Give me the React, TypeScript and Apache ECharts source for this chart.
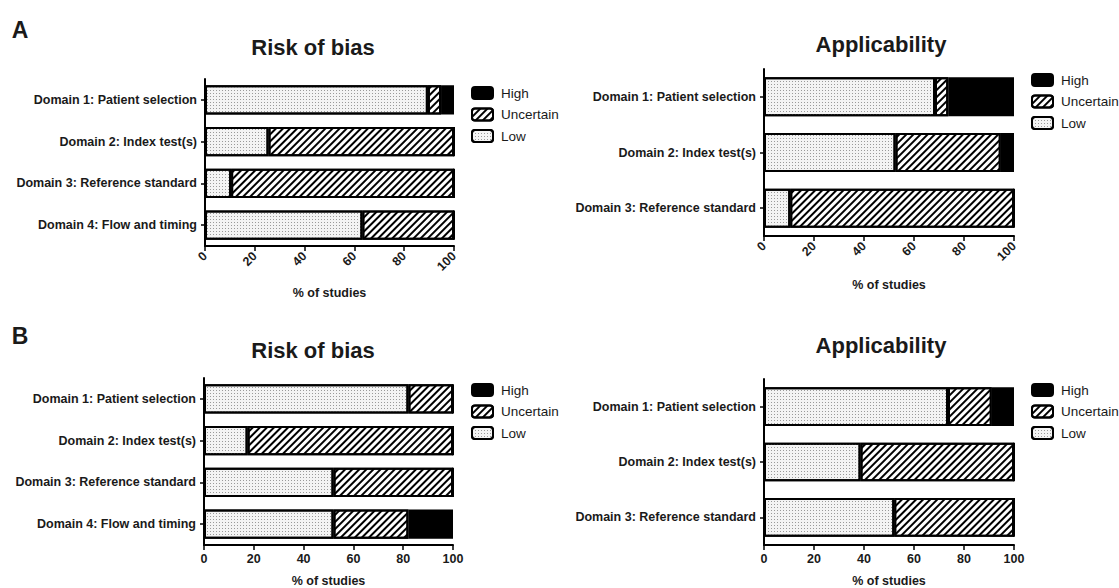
import React, { useEffect, useRef } from "react";
import * as echarts from "echarts";

const riskCategories = [
  "Domain 1: Patient selection",
  "Domain 2: Index test(s)",
  "Domain 3: Reference standard",
  "Domain 4: Flow and timing",
];
const applicabilityCategories = [
  "Domain 1: Patient selection",
  "Domain 2: Index test(s)",
  "Domain 3: Reference standard",
];
const legendNames = ["High", "Uncertain", "Low"];

// Panel A - Risk of bias (% of studies)
const riskA_low = [89.5, 25.5, 10.5, 63.2];
const riskA_uncertain = [5.3, 74.5, 89.5, 36.8];
const riskA_high = [5.2, 0, 0, 0];

// Panel A - Applicability
const applA_low = [68.4, 52.6, 10.5];
const applA_uncertain = [5.3, 42.1, 89.5];
const applA_high = [26.3, 5.3, 0];

// Panel B - Risk of bias
const riskB_low = [82.1, 17.5, 52.0, 52.0];
const riskB_uncertain = [17.9, 82.5, 48.0, 30.1];
const riskB_high = [0, 0, 0, 17.9];

// Panel B - Applicability
const applB_low = [73.6, 38.6, 52.1];
const applB_uncertain = [17.5, 61.4, 47.9];
const applB_high = [8.9, 0, 0];

const FONT = "'Liberation Sans', Arial, Helvetica, sans-serif";
const TXT = "#1a1a1a";

const lowStyle = {
  color: "#f4f4f4",
  borderColor: "#000",
  borderWidth: 2,
  decal: {
    symbol: "rect",
    symbolSize: 1,
    dashArrayX: [1, 2],
    dashArrayY: [1, 2],
    color: "#9a9a9a",
  },
};
const uncertainStyle = {
  color: "#fff",
  borderColor: "#000",
  borderWidth: 2,
  decal: {
    symbol: "rect",
    symbolSize: 1,
    dashArrayX: [1, 0],
    dashArrayY: [1.9, 2.3],
    rotation: -Math.PI / 4,
    color: "#000",
  },
};
const highStyle = { color: "#000", borderColor: "#000", borderWidth: 2 };

type Panel = {
  grid: { left: number; top: number; width: number; height: number };
  cats: string[];
  low: number[];
  unc: number[];
  high: number[];
  rotated: boolean;
  nameGap: number;
  legend: { left: number; top: number };
};

const panels: Panel[] = [
  {
    grid: { left: 205, top: 79, width: 249, height: 167 },
    cats: riskCategories,
    low: riskA_low,
    unc: riskA_uncertain,
    high: riskA_high,
    rotated: true,
    nameGap: 40,
    legend: { left: 471, top: 86 },
  },
  {
    grid: { left: 764, top: 69, width: 250, height: 167 },
    cats: applicabilityCategories,
    low: applA_low,
    unc: applA_uncertain,
    high: applA_high,
    rotated: true,
    nameGap: 42,
    legend: { left: 1031, top: 73 },
  },
  {
    grid: { left: 204, top: 378, width: 249, height: 168 },
    cats: riskCategories,
    low: riskB_low,
    unc: riskB_uncertain,
    high: riskB_high,
    rotated: false,
    nameGap: 29,
    legend: { left: 471, top: 383 },
  },
  {
    grid: { left: 764, top: 379, width: 250, height: 166 },
    cats: applicabilityCategories,
    low: applB_low,
    unc: applB_uncertain,
    high: applB_high,
    rotated: false,
    nameGap: 29,
    legend: { left: 1031, top: 383 },
  },
];

const titles = [
  { text: "Risk of bias", x: 313, y: 47 },
  { text: "Applicability", x: 881, y: 44 },
  { text: "Risk of bias", x: 313, y: 350 },
  { text: "Applicability", x: 881, y: 345 },
];
const letters = [
  { text: "A", x: 20, y: 30 },
  { text: "B", x: 20, y: 336 },
];

export default function App() {
  const ref = useRef<HTMLDivElement>(null);
  useEffect(() => {
    if (!ref.current) return;
    const chart = echarts.init(ref.current, undefined, { renderer: "svg" });

    const grid = panels.map((p) => ({ ...p.grid, containLabel: false }));
    const xAxis = panels.map((p, i) => ({
      type: "value",
      gridIndex: i,
      min: 0,
      max: 100,
      interval: 20,
      splitLine: { show: false },
      axisLine: { show: true, onZero: false, lineStyle: { color: "#000", width: 2 } },
      axisTick: { show: true, length: 5, lineStyle: { color: "#000", width: 1.5 } },
      axisLabel: {
        rotate: p.rotated ? 45 : 0,
        margin: p.rotated ? 8 : 7,
        fontSize: 12.5,
        fontWeight: "bold",
        color: TXT,
        fontFamily: FONT,
      },
      name: "% of studies",
      nameLocation: "middle",
      nameGap: p.nameGap,
      nameTextStyle: { fontSize: 12.5, fontWeight: "bold", color: TXT, fontFamily: FONT },
    }));
    const yAxis = panels.map((p, i) => ({
      type: "category",
      gridIndex: i,
      data: p.cats,
      inverse: true,
      axisLine: { show: true, lineStyle: { color: "#000", width: 2 } },
      axisTick: { show: true, alignWithLabel: true, length: 4, lineStyle: { color: "#000", width: 1.5 } },
      axisLabel: { fontSize: 12.5, fontWeight: "bold", color: TXT, margin: 8, fontFamily: FONT },
    }));
    const series: any[] = [];
    panels.forEach((p, i) => {
      const common = {
        type: "bar",
        stack: "s" + i,
        xAxisIndex: i,
        yAxisIndex: i,
        barWidth: "70%",
      };
      series.push({ ...common, name: "Low", data: p.low, itemStyle: lowStyle });
      series.push({ ...common, name: "Uncertain", data: p.unc, itemStyle: uncertainStyle });
      series.push({ ...common, name: "High", data: p.high, itemStyle: highStyle });
    });
    const legend = panels.map((p) => ({
      orient: "vertical",
      left: p.legend.left,
      top: p.legend.top,
      padding: 0,
      itemWidth: 21,
      itemHeight: 12,
      itemGap: 7.5,
      icon: "roundRect",
      selectedMode: false,
      data: legendNames,
      textStyle: { fontSize: 13.5, color: TXT, fontFamily: FONT, padding: [0, 0, 0, 3] },
    }));
    const graphic = [
      ...titles.map((t) => ({
        type: "text",
        x: t.x,
        y: t.y,
        style: {
          text: t.text,
          fill: TXT,
          font: `bold 22px ${FONT}`,
          textAlign: "center",
          textVerticalAlign: "middle",
        },
      })),
      ...letters.map((t) => ({
        type: "text",
        x: t.x,
        y: t.y,
        style: {
          text: t.text,
          fill: TXT,
          font: `bold 23px ${FONT}`,
          textAlign: "center",
          textVerticalAlign: "middle",
        },
      })),
    ];

    chart.setOption({
      animation: false,
      backgroundColor: "#fff",
      grid,
      xAxis,
      yAxis,
      series,
      legend,
      graphic,
    } as any);
    return () => chart.dispose();
  }, []);
  return (
    <div
      ref={ref}
      style={{ position: "fixed", left: 0, top: 0, width: 1119, height: 588 }}
    />
  );
}
